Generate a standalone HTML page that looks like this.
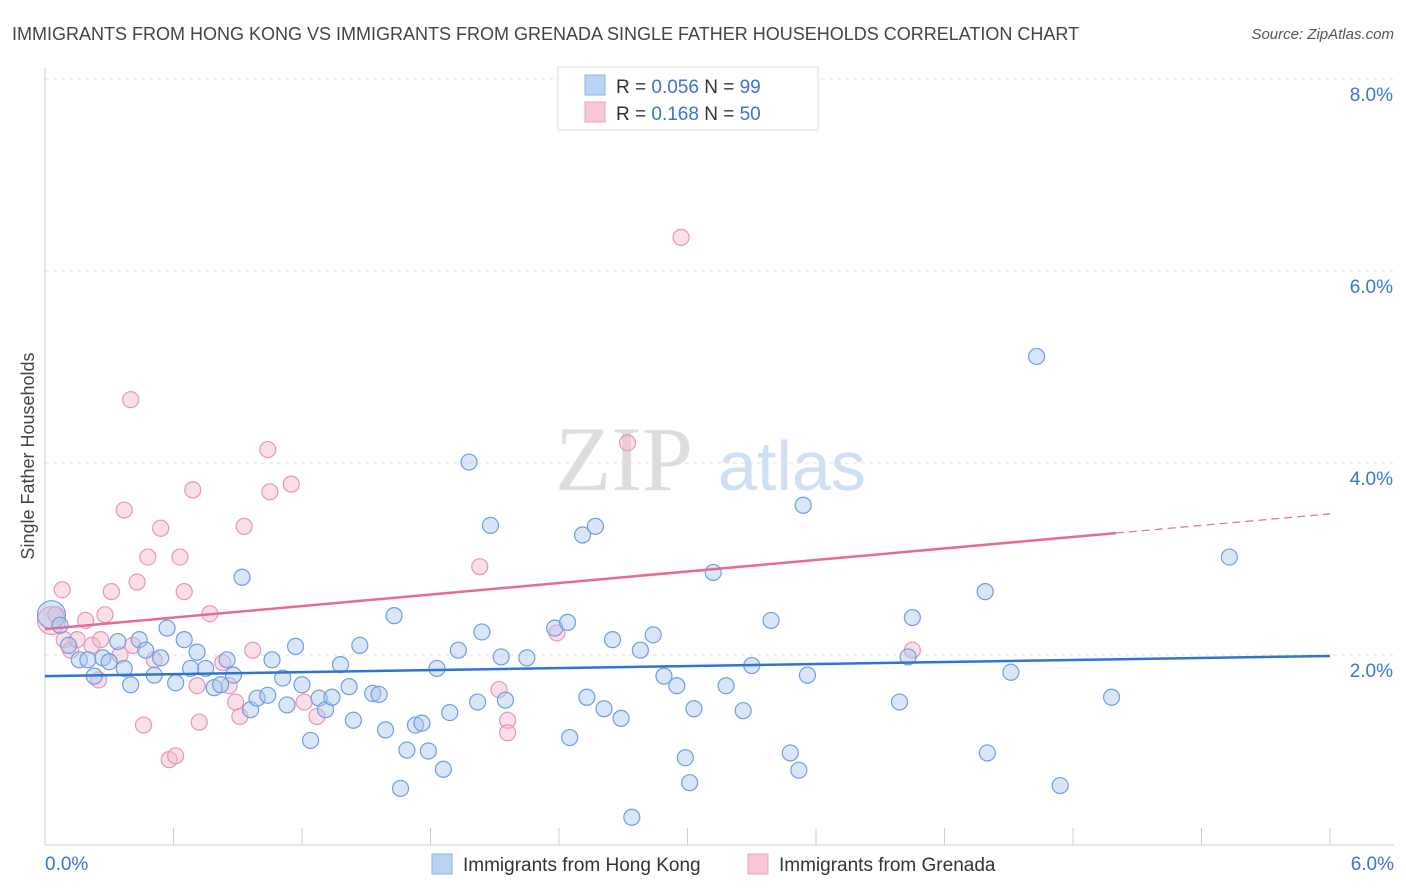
<!DOCTYPE html>
<html><head><meta charset="utf-8"><style>
body{margin:0;background:#fff;font-family:"Liberation Sans",sans-serif;}
</style></head><body>
<svg id="chart" width="1406" height="892" xmlns="http://www.w3.org/2000/svg" style="display:block">
<text x="12" y="40" font-size="18" fill="#444">IMMIGRANTS FROM HONG KONG VS IMMIGRANTS FROM GRENADA SINGLE FATHER HOUSEHOLDS CORRELATION CHART</text>
<text x="1394" y="39" font-size="15" fill="#555" font-style="italic" text-anchor="end">Source: ZipAtlas.com</text>
<g id="grid"></g>
<g>
<text x="555" y="490" font-size="92" fill="#ddd" font-family="Liberation Serif">ZIP</text>
<text x="718" y="490" font-size="70" fill="#cfe0f3">atlas</text></g>
<g id="axes"></g>
<g id="pts"></g>
<g id="lines"></g>
<text transform="translate(34,456) rotate(-90)" font-size="18" fill="#444" text-anchor="middle">Single Father Households</text>
<g>
<rect x="558" y="67" width="260" height="63" fill="#fff" stroke="#ddd"/>
<rect x="585" y="75" width="20" height="20" fill="#b9d3f5" stroke="#8fb3e6"/>
<rect x="585" y="102" width="20" height="20" fill="#f9c6d6" stroke="#eea2ba"/>
<text x="616" y="93" font-size="19" fill="#333">R = <tspan fill="#3a75d0">0.056</tspan>   N = <tspan fill="#3a75d0">99</tspan></text>
<text x="616" y="120" font-size="19" fill="#333">R =  <tspan fill="#3a75d0">0.168</tspan>   N = <tspan fill="#3a75d0">50</tspan></text>
</g>
<g>
<rect x="432" y="854" width="20" height="20" fill="#b9d3f5" stroke="#8fb3e6"/>
<text x="463" y="871" font-size="19" fill="#333">Immigrants from Hong Kong</text>
<rect x="748" y="854" width="20" height="20" fill="#f9c6d6" stroke="#eea2ba"/>
<text x="779" y="871" font-size="19" fill="#333">Immigrants from Grenada</text>
</g>
</svg>
<script>
const yTicks=[2,4,6,8];
const yTickLabels=["2.0%","4.0%","6.0%","8.0%"];
const xTickLabels=["0.0%","6.0%"];
const blueX=[0.03,0.07,0.11,0.16,0.20,0.23,0.27,0.30,0.34,0.37,0.40,0.44,0.47,0.51,0.54,0.57,0.61,0.65,0.68,0.71,0.75,0.79,0.82,0.85,0.88,0.92,0.96,0.99,1.04,1.06,1.11,1.13,1.17,1.20,1.24,1.28,1.31,1.34,1.38,1.42,1.44,1.47,1.53,1.56,1.59,1.63,1.66,1.69,1.73,1.76,1.79,1.83,1.86,1.89,1.93,1.98,2.02,2.04,2.08,2.13,2.15,2.25,2.38,2.44,2.45,2.51,2.53,2.57,2.61,2.65,2.69,2.74,2.78,2.84,2.89,2.95,2.99,3.01,3.03,3.12,3.18,3.26,3.30,3.39,3.48,3.52,3.54,3.56,3.99,4.03,4.05,4.39,4.40,4.51,4.63,4.74,4.98,5.53];
const blueY=[2.42,2.31,2.10,1.95,1.95,1.78,1.97,1.93,2.14,1.86,1.69,2.16,2.05,1.79,1.97,2.28,1.71,2.16,1.86,2.03,1.86,1.66,1.69,1.95,1.79,2.81,1.43,1.55,1.58,1.95,1.76,1.48,2.09,1.69,1.11,1.55,1.43,1.56,1.90,1.67,1.32,2.10,1.60,1.59,1.22,2.41,0.61,1.01,1.27,1.29,1.00,1.86,0.81,1.40,2.05,4.01,1.51,2.24,3.35,1.98,1.53,1.97,2.28,2.34,1.14,3.25,1.56,3.34,1.44,2.16,1.34,0.31,2.05,2.21,1.78,1.68,0.93,0.67,1.44,2.86,1.68,1.42,1.89,2.36,0.98,0.80,3.56,1.79,1.51,1.98,2.39,2.66,0.98,1.82,5.11,0.64,1.56,3.02];
const pinkX=[0.03,0.05,0.08,0.09,0.12,0.15,0.19,0.22,0.25,0.26,0.28,0.31,0.35,0.37,0.40,0.41,0.43,0.46,0.48,0.51,0.54,0.58,0.61,0.63,0.65,0.69,0.71,0.72,0.77,0.83,0.86,0.89,0.91,0.93,0.97,1.04,1.05,1.15,1.21,1.27,2.03,2.12,2.16,2.16,2.39,2.72,2.97,4.05];
const pinkY=[2.36,2.42,2.68,2.16,2.05,2.16,2.36,2.10,1.74,2.16,2.42,2.66,2.00,3.51,4.66,2.10,2.76,1.27,3.02,1.95,3.32,0.91,0.95,3.02,2.66,3.72,1.68,1.30,2.43,1.92,1.68,1.51,1.36,3.34,2.05,4.14,3.70,3.78,1.51,1.36,2.92,1.64,1.32,1.19,2.23,4.21,6.35,2.05];
const blueLine=[1.78,1.99];
const pinkLine=[2.27,3.47];
const pinkSolidEnd=5.0;
const NS="http://www.w3.org/2000/svg";
const X0=45,X1=1330,Y0=847;
const sx=v=>X0+(v/6)*(X1-X0);
const sy=v=>Y0-v*96;
function mk(tag,attrs,parent){const e=document.createElementNS(NS,tag);for(const k in attrs)e.setAttribute(k,attrs[k]);parent.appendChild(e);return e;}
const grid=document.getElementById('grid'),axes=document.getElementById('axes'),pts=document.getElementById('pts'),lines=document.getElementById('lines');
yTicks.forEach((t,i)=>{
 const l=mk('line',{x1:X0,x2:1394,y1:sy(t),y2:sy(t),stroke:'#e2e2e2','stroke-dasharray':'4,4'},grid);
 
 
 const tx=mk('text',{x:1393,y:sy(t)+22,'font-size':19,fill:'#3a75d0','text-anchor':'end'},axes);
 tx.textContent=yTickLabels[i];
 
 
});
mk('line',{x1:X0,x2:X0,y1:68,y2:845,stroke:'#ccc'},axes);
mk('line',{x1:X0,x2:1394,y1:845,y2:845,stroke:'#ccc'},axes);
for(let i=0;i<=10;i++){const l=mk('line',{x1:sx(i*0.6),x2:sx(i*0.6),y1:828,y2:845,stroke:'#ccc'},axes);
 
 }
const xl0=mk('text',{x:45,y:870,'font-size':19,fill:'#3a75d0'},axes);xl0.textContent=xTickLabels[0];


const xl1=mk('text',{x:1394,y:870,'font-size':19,fill:'#3a75d0','text-anchor':'end'},axes);xl1.textContent=xTickLabels[1];


function dots(xs,ys,fill,stroke,name){xs.forEach((x,i)=>{const c=mk('circle',{cx:sx(x),cy:sy(ys[i]),r:i===0?14:8,fill:fill,'fill-opacity':0.45,stroke:stroke,'stroke-width':1.2},pts);
 
 });}
dots(pinkX,pinkY,'#f7b8cc','#e996b2','grenada-point');
dots(blueX,blueY,'#a9c8f0','#6f9edf','hong-kong-point');
const bl=mk('line',{x1:sx(0),y1:sy(blueLine[0]),x2:sx(6),y2:sy(blueLine[1]),stroke:'#2f74d0','stroke-width':2.5},lines);


const pe=pinkLine[0]+(pinkLine[1]-pinkLine[0])*pinkSolidEnd/6;
const pl=mk('line',{x1:sx(0),y1:sy(pinkLine[0]),x2:sx(pinkSolidEnd),y2:sy(pe),stroke:'#e36b96','stroke-width':2.5},lines);


const pd=mk('line',{x1:sx(pinkSolidEnd),y1:sy(pe),x2:sx(6),y2:sy(pinkLine[1]),stroke:'#e36b96','stroke-width':1.2,'stroke-dasharray':'8,5'},lines);


</script>
</body></html>
